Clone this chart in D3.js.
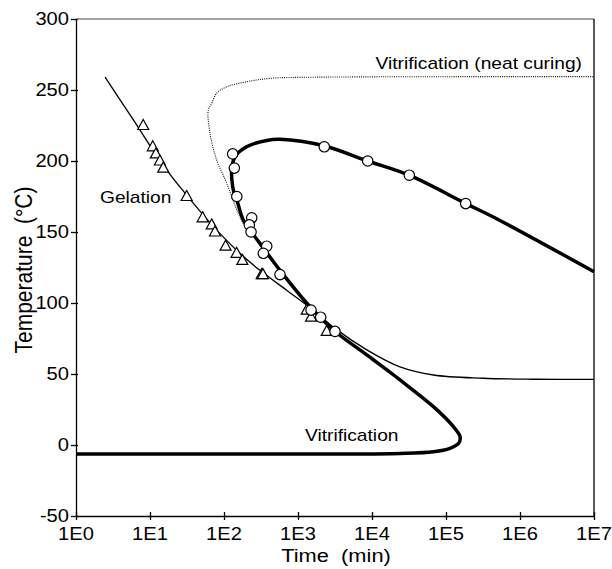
<!DOCTYPE html>
<html>
<head>
<meta charset="utf-8">
<script src="https://cdn.jsdelivr.net/npm/d3@7"></script>
<style>
  body { margin: 0; background: #fff; }
  text { font-family: "Liberation Sans", Arial, sans-serif; fill: #000; }
</style>
</head>
<body>
<div id="chart"></div>
<script>
// ---- data ----
// gelation points (triangles)
const gelTime = [8.1, 10.9, 12.0, 13.6, 15.1, 31.3, 51.5, 68.2, 75.5, 105, 148, 177, 323, 336, 1312, 1500, 2443];
const gelTemp = [225, 210, 205, 200, 195, 175, 160, 155, 150, 140, 135, 130, 120, 120, 95, 90, 80];

// vitrification points (circles)
const vitTime = [131, 138, 149, 237, 220, 232, 378, 340, 571, 1500, 2026, 3162, 2265, 8750, 31900, 184600];
const vitTemp = [205, 195, 175, 160, 155, 150, 140, 135, 120, 95, 90, 80, 210, 200, 190, 170];

// gelation model curve (thin)
const gelCurveTime = [2.47, 3.94, 5.96, 15.1, 31.3, 71.6, 164, 306, 703, 1610, 3000, 8510, 23900, 67600, 316000, 1.51e6, 1e7];
const gelCurveTemp = [259, 243, 229, 197, 176, 154, 135, 123, 109, 95, 83, 67, 55, 49.3, 47, 46.3, 46.2];

// vitrification model curve (thick)
const vitCurveTime = [1e7, 520000, 186000, 31600, 8700, 2290, 571, 378, 202, 141, 127, 131, 141, 149, 182, 306, 571, 1452, 3000,
  8510, 23900, 67600, 126000, 155000, 148000, 113000, 67600, 24000, 3000, 1];
const vitCurveTemp = [122, 158.5, 170, 190, 200, 210.6, 215.3, 214.5, 210, 203, 194, 182, 175, 172.5, 158.5, 142, 123, 97.4, 81,
  63.4, 45.8, 27, 12.9, 5.8, 1.2, -2.3, -4.7, -5.9, -6.3, -6.3];

// vitrification, neat curing (dotted)
const neatTime = [182, 149, 109, 79.6, 64.7, 61.4, 68.2, 79.6, 109, 203, 419, 1610, 1e7];
const neatTemp = [156, 165.5, 184.3, 200.7, 219.5, 236, 240.6, 247.7, 252.3, 255.8, 258.2, 259, 259.4];

const xTicks = [1, 10, 100, 1e3, 1e4, 1e5, 1e6, 1e7];
const yTicks = [-50, 0, 50, 100, 150, 200, 250, 300];

// ---- layout ----
const W = 612, H = 569;
const pLeft = 76, pRight = 594, pTop = 19, pBottom = 516;

const svg = d3.select('#chart').append('svg')
    .attr('width', W)
    .attr('height', H);

const x = d3.scaleLog().domain([1, 1e7]).range([pLeft, pRight]);
const y = d3.scaleLinear().domain([-50, 300]).range([pBottom, pTop]);

// axes (ticks only, labels drawn separately so they can be stretched like the scan)
svg.append('g')
    .attr('transform', `translate(0,${pBottom})`)
    .call(d3.axisBottom(x).tickValues(xTicks).tickFormat('').tickSize(4).tickSizeOuter(0))
    .call(g => g.selectAll('.tick line').attr('y1', -4))
    .call(g => g.selectAll('line,path').attr('stroke', '#000').attr('stroke-width', 1.3));

svg.append('g')
    .attr('transform', `translate(${pLeft},0)`)
    .call(d3.axisLeft(y).tickValues(yTicks).tickFormat('').tickSize(5).tickSizeOuter(0))
    .call(g => g.selectAll('.tick line').attr('x1', 2))
    .call(g => g.selectAll('line,path').attr('stroke', '#000').attr('stroke-width', 1.3));

// top and right frame
svg.append('line').attr('x1', pLeft).attr('x2', pRight).attr('y1', pTop).attr('y2', pTop)
    .attr('stroke', '#444').attr('stroke-width', 1.2);
svg.append('line').attr('x1', pRight).attr('x2', pRight).attr('y1', pTop).attr('y2', pBottom)
    .attr('stroke', '#000').attr('stroke-width', 1.3);

// tick labels
const sx = 1.15;
xTicks.forEach(d => {
    svg.append('text')
        .attr('transform', `translate(${x(d)},540) scale(${sx},1)`)
        .attr('text-anchor', 'middle')
        .style('font-size', '17.5px')
        .text('1E' + Math.round(Math.log10(d)));
});
yTicks.forEach(d => {
    svg.append('text')
        .attr('transform', `translate(69,${y(d) + 6}) scale(${sx},1)`)
        .attr('text-anchor', 'end')
        .style('font-size', '17.5px')
        .text(d);
});

// axis titles
svg.append('text')
    .attr('transform', `translate(336,562) scale(${sx},1)`)
    .attr('text-anchor', 'middle')
    .style('font-size', '19px')
    .style('white-space', 'pre')
    .text('Time  (min)');
svg.append('text')
    .attr('transform', `translate(32,270) rotate(-90) scale(1,1.15)`)
    .attr('text-anchor', 'middle')
    .style('font-size', '21px')
    .style('white-space', 'pre')
    .text('Temperature  (°C)');

// curves
const line = d3.line()
    .x(d => x(d[0]))
    .y(d => y(d[1]))
    .curve(d3.curveCatmullRom.alpha(0.5));

const plot = svg.append('g');

plot.append('path')
    .datum(d3.zip(neatTime, neatTemp))
    .attr('d', line)
    .attr('fill', 'none')
    .attr('stroke', '#111')
    .attr('stroke-width', 1.1)
    .attr('stroke-dasharray', '1,1.2');

plot.append('path')
    .datum(d3.zip(gelCurveTime, gelCurveTemp))
    .attr('d', line)
    .attr('fill', 'none')
    .attr('stroke', '#000')
    .attr('stroke-width', 1.3);

plot.append('path')
    .datum(d3.zip(vitCurveTime, vitCurveTemp))
    .attr('d', line)
    .attr('fill', 'none')
    .attr('stroke', '#000')
    .attr('stroke-width', 3.5);

// markers
plot.selectAll('.tri')
    .data(d3.zip(gelTime, gelTemp))
    .join('path')
    .attr('class', 'tri')
    .attr('transform', d => `translate(${x(d[0])},${y(d[1])})`)
    .attr('d', 'M0,-6L5.5,4L-5.5,4Z')
    .attr('fill', '#fff')
    .attr('stroke', '#000')
    .attr('stroke-width', 1.2);

plot.selectAll('.circ')
    .data(d3.zip(vitTime, vitTemp))
    .join('circle')
    .attr('class', 'circ')
    .attr('cx', d => x(d[0]))
    .attr('cy', d => y(d[1]))
    .attr('r', 5.2)
    .attr('fill', '#fff')
    .attr('stroke', '#000')
    .attr('stroke-width', 1.2);

// in-plot labels
svg.append('text')
    .attr('transform', `translate(582,68.5) scale(1.2,1)`)
    .attr('text-anchor', 'end')
    .style('font-size', '16px')
    .text('Vitrification (neat curing)');
svg.append('text')
    .attr('transform', `translate(100,203) scale(1.2,1)`)
    .style('font-size', '16px')
    .text('Gelation');
svg.append('text')
    .attr('transform', `translate(305,441) scale(1.2,1)`)
    .style('font-size', '16px')
    .text('Vitrification');
</script>
</body>
</html>
